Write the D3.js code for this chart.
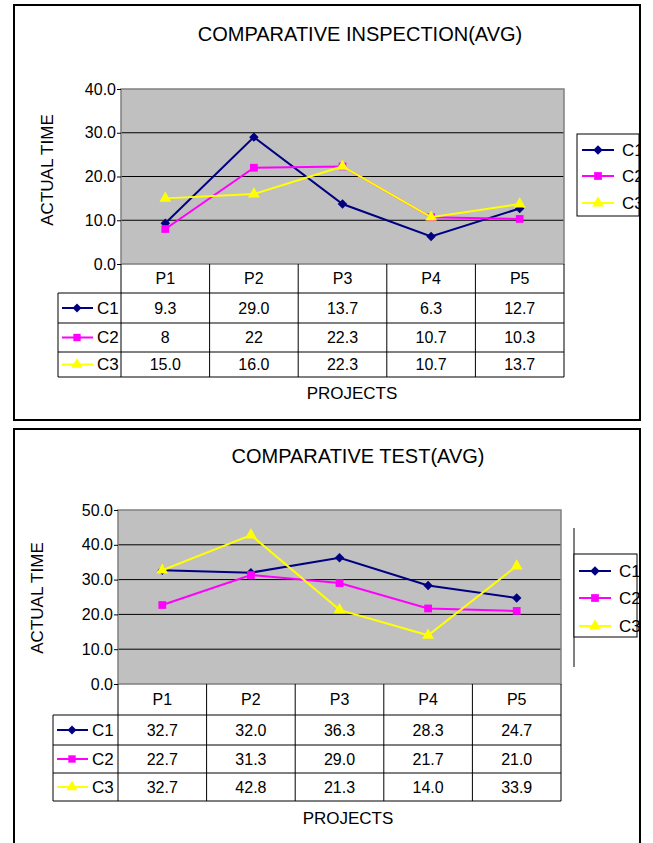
<!DOCTYPE html>
<html>
<head>
<meta charset="utf-8">
<script src="https://cdn.jsdelivr.net/npm/d3@7"></script>
<style>
  body { margin: 0; background: #fff; }
  text { font-family: "Liberation Sans", Arial, sans-serif; fill: #000; }
</style>
</head>
<body>
<svg id="chart" width="653" height="843"></svg>
<script>
// data (cell texts as shown in the tables)
const projects = ["P1", "P2", "P3", "P4", "P5"];
const seriesNames = ["C1", "C2", "C3"];
const seriesColors = ["#000080", "#FF00FF", "#FFFF00"];

const inspectionC1 = ["9.3", "29.0", "13.7", "6.3", "12.7"];
const inspectionC2 = ["8", "22", "22.3", "10.7", "10.3"];
const inspectionC3 = ["15.0", "16.0", "22.3", "10.7", "13.7"];
const inspectionTicks = [0, 10, 20, 30, 40];

const testC1 = ["32.7", "32.0", "36.3", "28.3", "24.7"];
const testC2 = ["22.7", "31.3", "29.0", "21.7", "21.0"];
const testC3 = ["32.7", "42.8", "21.3", "14.0", "33.9"];
const testTicks = [0, 10, 20, 30, 40, 50];

const svg = d3.select("#chart");
// diamond = square turned 45 degrees (excel style), then square, triangle
const symbols = [d3.symbolSquare, d3.symbolSquare, d3.symbolTriangle];
const symbolRot = [45, 0, 0];
const symbolSize = [45, 60, 60];

function marker(sel, k, px, py, scale) {
  sel.append("path")
    .attr("transform", `translate(${px},${py}) rotate(${symbolRot[k]})`)
    .attr("d", d3.symbol().type(symbols[k]).size(symbolSize[k] * (scale || 1)))
    .attr("fill", seriesColors[k]);
}

// clip for everything inside a frame
svg.append("clipPath").attr("id", "clipTop")
  .append("rect").attr("x", 14).attr("y", 5).attr("width", 626).attr("height", 415);
svg.append("clipPath").attr("id", "clipBottom")
  .append("rect").attr("x", 14).attr("y", 429).attr("width", 626).attr("height", 420);

function drawChart(opt) {
  const g = svg.append("g").attr("clip-path", `url(#${opt.clip})`);
  const rows = [opt.c1, opt.c2, opt.c3];

  const x = d3.scaleBand().domain(projects).range([opt.left, opt.right]);
  const y = d3.scaleLinear().domain([0, d3.max(opt.ticks)]).range([opt.bottom, opt.top]);
  const cx = p => x(p) + x.bandwidth() / 2;

  g.append("text")
    .attr("x", opt.titleX).attr("y", opt.titleY)
    .attr("text-anchor", "middle")
    .style("font-size", "20px")
    .text(opt.title);

  // plot area
  g.append("rect")
    .attr("x", opt.left).attr("y", opt.top)
    .attr("width", opt.right - opt.left).attr("height", opt.bottom - opt.top)
    .attr("fill", "#C0C0C0");

  g.selectAll(".grid")
    .data(opt.ticks.slice(1, -1))
    .enter().append("line")
    .attr("x1", opt.left).attr("x2", opt.right)
    .attr("y1", d => y(d)).attr("y2", d => y(d))
    .attr("stroke", "#000").attr("stroke-width", 1);

  g.append("rect")
    .attr("x", opt.left).attr("y", opt.top)
    .attr("width", opt.right - opt.left).attr("height", opt.bottom - opt.top)
    .attr("fill", "none").attr("stroke", "#808080").attr("stroke-width", 1.5);

  const yAxis = g.append("g")
    .attr("transform", `translate(${opt.left},0)`)
    .call(d3.axisLeft(y).tickValues(opt.ticks).tickFormat(d3.format(".1f")).tickSize(4).tickPadding(1));
  yAxis.select(".domain").remove();
  yAxis.selectAll("text").style("font-size", "16px").attr("font-family", null);

  g.append("text")
    .attr("transform", `translate(${opt.yLabelX},${opt.yLabelY}) rotate(-90)`)
    .attr("text-anchor", "middle")
    .style("font-size", "17px")
    .text("ACTUAL TIME");

  // lines and markers
  const line = d3.line().x((d, i) => cx(projects[i])).y(d => y(+d));
  rows.forEach((r, k) => {
    g.append("path")
      .attr("d", line(r))
      .attr("fill", "none")
      .attr("stroke", seriesColors[k])
      .attr("stroke-width", 2);
    r.forEach((d, i) => marker(g, k, cx(projects[i]), y(+d)));
  });

  // data table
  const rowY = opt.rowY;
  const tableBottom = rowY[rowY.length - 1];
  projects.forEach(p => {
    g.append("text")
      .attr("x", cx(p)).attr("y", (rowY[0] + rowY[1]) / 2)
      .attr("dy", "0.35em").attr("text-anchor", "middle")
      .style("font-size", "16px").text(p);
  });
  x.range().concat(projects.slice(1).map(p => x(p))).forEach(xx => {
    g.append("line")
      .attr("x1", xx).attr("x2", xx)
      .attr("y1", rowY[0]).attr("y2", tableBottom)
      .attr("stroke", "#000");
  });
  g.append("line")
    .attr("x1", opt.keyLeft).attr("x2", opt.keyLeft)
    .attr("y1", rowY[1]).attr("y2", tableBottom)
    .attr("stroke", "#000");
  rowY.slice(1).forEach(yy => {
    g.append("line")
      .attr("x1", opt.keyLeft).attr("x2", opt.right)
      .attr("y1", yy).attr("y2", yy)
      .attr("stroke", "#000");
  });
  rows.forEach((r, k) => {
    const my = (rowY[k + 1] + rowY[k + 2]) / 2;
    r.forEach((d, i) => {
      g.append("text")
        .attr("x", cx(projects[i])).attr("y", my)
        .attr("dy", "0.35em").attr("text-anchor", "middle")
        .style("font-size", "16px").text(d);
    });
    const kx = opt.keyLeft + 4;
    g.append("line")
      .attr("x1", kx).attr("x2", kx + 31)
      .attr("y1", my).attr("y2", my)
      .attr("stroke", seriesColors[k]).attr("stroke-width", 2);
    marker(g, k, kx + 15, my, 0.9);
    g.append("text")
      .attr("x", kx + 35).attr("y", my)
      .attr("dy", "0.35em")
      .style("font-size", "17px").text(seriesNames[k]);
  });

  g.append("text")
    .attr("x", opt.xLabelX).attr("y", opt.xLabelY)
    .attr("text-anchor", "middle")
    .style("font-size", "17px")
    .text("PROJECTS");

  // legend
  const lg = opt.legend;
  if (lg.bar) {
    g.append("line")
      .attr("x1", lg.x).attr("x2", lg.x)
      .attr("y1", lg.bar[0]).attr("y2", lg.bar[1])
      .attr("stroke", "#808080").attr("stroke-width", 2);
  }
  g.append("rect")
    .attr("x", lg.x).attr("y", lg.y).attr("width", lg.w).attr("height", lg.h)
    .attr("fill", "#fff").attr("stroke", "#000");
  seriesNames.forEach((n, k) => {
    const ly = lg.ys[k];
    g.append("line")
      .attr("x1", lg.x + 5).attr("x2", lg.x + 37)
      .attr("y1", ly).attr("y2", ly)
      .attr("stroke", seriesColors[k]).attr("stroke-width", 2);
    marker(g, k, lg.x + 21, ly);
    g.append("text")
      .attr("x", lg.x + 45).attr("y", ly)
      .attr("dy", "0.35em")
      .style("font-size", "17px").text(n);
  });
}

// frames
svg.append("rect").attr("x", 14).attr("y", 5).attr("width", 626).attr("height", 415)
  .attr("fill", "#fff").attr("stroke", "#000").attr("stroke-width", 2);
svg.append("rect").attr("x", 14).attr("y", 429).attr("width", 626).attr("height", 430)
  .attr("fill", "#fff").attr("stroke", "#000").attr("stroke-width", 2);

drawChart({
  clip: "clipTop",
  title: "COMPARATIVE INSPECTION(AVG)", titleX: 360, titleY: 41,
  c1: inspectionC1, c2: inspectionC2, c3: inspectionC3, ticks: inspectionTicks,
  left: 121, right: 564, top: 89, bottom: 264,
  yLabelX: 53, yLabelY: 170,
  rowY: [264, 293, 323, 352, 377], keyLeft: 58,
  xLabelX: 352, xLabelY: 399,
  legend: { x: 577, y: 134, w: 62, h: 82, ys: [150, 176, 203] }
});

drawChart({
  clip: "clipBottom",
  title: "COMPARATIVE TEST(AVG)", titleX: 358, titleY: 463,
  c1: testC1, c2: testC2, c3: testC3, ticks: testTicks,
  left: 118, right: 561, top: 510, bottom: 684,
  yLabelX: 43, yLabelY: 598,
  rowY: [684, 715, 745, 773, 801], keyLeft: 53,
  xLabelX: 348, xLabelY: 824,
  legend: { x: 574, y: 554, w: 63, h: 83, ys: [571, 598, 626], bar: [528, 667] }
});
</script>
</body>
</html>
